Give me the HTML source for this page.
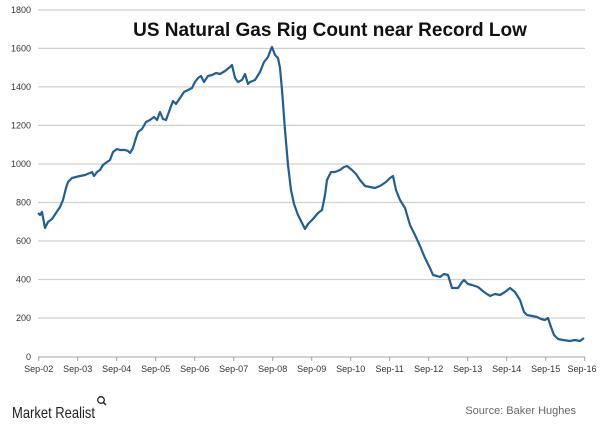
<!DOCTYPE html>
<html><head><meta charset="utf-8"><style>
html,body{margin:0;padding:0;background:#fff;}
svg{display:block;font-family:"Liberation Sans",sans-serif;}
</style></head><body>
<svg width="600" height="428" viewBox="0 0 600 428">
<g stroke="#d0d0d0" stroke-width="1.2">
<line x1="38" y1="10" x2="585" y2="10"/>
<line x1="38" y1="48.4" x2="585" y2="48.4"/>
<line x1="38" y1="86.9" x2="585" y2="86.9"/>
<line x1="38" y1="125.4" x2="585" y2="125.4"/>
<line x1="38" y1="164" x2="585" y2="164"/>
<line x1="38" y1="202.5" x2="585" y2="202.5"/>
<line x1="38" y1="241" x2="585" y2="241"/>
<line x1="38" y1="279.5" x2="585" y2="279.5"/>
<line x1="38" y1="318" x2="585" y2="318"/>
</g>
<line x1="38" y1="357" x2="585" y2="357" stroke="#a0a0a0" stroke-width="1"/>
<g stroke="#a0a0a0" stroke-width="1">
<line x1="38.7" y1="357" x2="38.7" y2="361"/><line x1="77.7" y1="357" x2="77.7" y2="361"/><line x1="116.7" y1="357" x2="116.7" y2="361"/><line x1="155.7" y1="357" x2="155.7" y2="361"/><line x1="194.7" y1="357" x2="194.7" y2="361"/><line x1="233.7" y1="357" x2="233.7" y2="361"/><line x1="272.7" y1="357" x2="272.7" y2="361"/><line x1="311.7" y1="357" x2="311.7" y2="361"/><line x1="350.7" y1="357" x2="350.7" y2="361"/><line x1="389.7" y1="357" x2="389.7" y2="361"/><line x1="428.7" y1="357" x2="428.7" y2="361"/><line x1="467.7" y1="357" x2="467.7" y2="361"/><line x1="506.7" y1="357" x2="506.7" y2="361"/><line x1="545.7" y1="357" x2="545.7" y2="361"/><line x1="584.7" y1="357" x2="584.7" y2="361"/>
</g>
<g font-size="9" fill="#333" text-anchor="end">
<text x="31" y="13">1800</text><text x="31" y="51.5">1600</text><text x="31" y="90">1400</text><text x="31" y="128.5">1200</text><text x="31" y="167">1000</text><text x="31" y="205.5">800</text><text x="31" y="244">600</text><text x="31" y="282.5">400</text><text x="31" y="321">200</text><text x="31" y="360">0</text>
</g>
<g font-size="9" fill="#333" text-anchor="middle">
<text x="38.7" y="372">Sep-02</text><text x="77.7" y="372">Sep-03</text><text x="116.7" y="372">Sep-04</text><text x="155.7" y="372">Sep-05</text><text x="194.7" y="372">Sep-06</text><text x="233.7" y="372">Sep-07</text><text x="272.7" y="372">Sep-08</text><text x="311.7" y="372">Sep-09</text><text x="350.7" y="372">Sep-10</text><text x="389.7" y="372">Sep-11</text><text x="428.7" y="372">Sep-12</text><text x="467.7" y="372">Sep-13</text><text x="506.7" y="372">Sep-14</text><text x="545.7" y="372">Sep-15</text><text x="582" y="372">Sep-16</text>
</g>
<text x="330" y="36" font-size="19" font-weight="bold" fill="#111" text-anchor="middle">US Natural Gas Rig Count near Record Low</text>
<polyline fill="none" stroke="#1f5f95" stroke-width="2.2" stroke-linejoin="round" points="38,213 40,215 42,212 45,228 48,222 52,219 56,213 60,207 63,200 66,188 68,182 72,178 76,177 80,176 85,175 90,173 92,172 94,176 97,172 100,170 103,165 107,162 110,160 113,152 117,149 120,150 125,150 128,151 130,153 133,148 135,141 138,132 142,129 146,122 150,120 154,117 157,120 160,112 163,119 166,120 170,109 173,101 176,104 180,98 184,92 188,90 192,88 195,82 198,78 201,76 204,82 208,76 212,75 216,73 220,74 225,71 230,67 232,65 235,78 238,82 242,80 245,74 248,84 250,82 255,80 260,72 264,62 268,57 271,49 272,47 275,55 278,58 280,68 282,90 285,130 288,165 291,190 294,204 298,215 302,223 305,229 308,224 313,219 318,213 322,210 325,195 327,180 331,172 335,172 340,170 344,167 347,166 352,170 356,174 360,180 365,186 370,187 375,188 380,186 386,182 390,178 393,176 396,190 400,200 405,208 410,225 415,235 420,246 425,258 430,268 433,275 437,276 440,277 444,274 448,275 452,288 458,288 462,282 464,280 468,284 472,285 478,287 484,292 490,296 495,294 500,295 505,292 510,288 515,292 520,300 524,312 527,315 532,316 537,317 541,319 545,320 548,318 551,327 554,335 558,339 563,340 570,341 575,340 580,341 584,338"/>
<text x="12" y="418" font-size="16" fill="#222" textLength="83" lengthAdjust="spacingAndGlyphs">Market Realist</text>
<circle cx="101" cy="400" r="3.3" fill="none" stroke="#222" stroke-width="1.3"/>
<line x1="103.4" y1="402.4" x2="106" y2="405" stroke="#222" stroke-width="1.5"/>
<text x="576" y="414" font-size="11" fill="#666" text-anchor="end">Source: Baker Hughes</text>
</svg>
</body></html>
